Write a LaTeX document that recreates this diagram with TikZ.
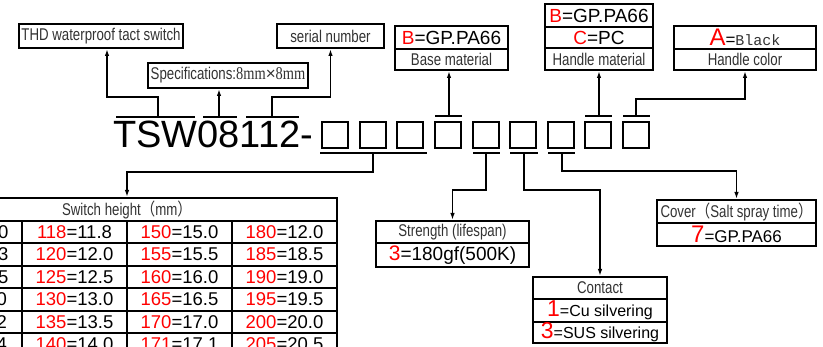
\documentclass[tikz,border=0pt]{standalone}
\usepackage{fontspec}
\setmainfont{Liberation Sans}
\newfontfamily\narrowfont[FakeStretch=0.78]{Liberation Sans}
\newfontfamily\narrowserif[FakeStretch=0.8]{Liberation Serif}
\newfontfamily\cjkfont[FakeStretch=0.85]{Noto Sans CJK SC}
\newfontfamily\monofnt{Liberation Mono}
\newfontfamily\plainsans{Liberation Sans}
\usetikzlibrary{arrows.meta}
\definecolor{redtxt}{RGB}{255,0,0}
\definecolor{labgray}{RGB}{50,50,50}
\newcommand\redd[1]{\textcolor{redtxt}{#1}}
\tikzset{
  box/.style={draw, line width=2pt, inner sep=0pt, align=center},
  lab/.style={font=\narrowfont\fontsize{17}{17}\selectfont, text=labgray},
  val/.style={font=\fontsize{19}{19}\selectfont},
  cellv/.style={font=\fontsize{18.5}{18.5}\selectfont},
  conn/.style={line width=1.8pt},
  arr/.style={conn, -{Latex[length=7pt,width=4.5pt]}},
  bar/.style={line width=2pt},
  sq/.style={draw, line width=2pt, minimum width=26pt, minimum height=26pt, inner sep=0pt},
}
\begin{document}
\begin{tikzpicture}[x=1pt,y=-1pt]
\useasboundingbox (0,0) rectangle (823,347);

% ---- top label boxes
\node[box, lab, minimum width=164pt, minimum height=24pt] (thd) at (101,36) {THD waterproof tact switch};
\node[box, lab, minimum width=160pt, minimum height=25pt] (spec) at (228,75.5)
  {Specifications:{\narrowserif\fontsize{18}{18}\selectfont 8mm}{\plainsans ×}{\narrowserif\fontsize{18}{18}\selectfont 8mm}};
\node[box, lab, minimum width=107pt, minimum height=24pt] (serial) at (330.5,36) {serial number};

\node[box, val, minimum width=113pt, minimum height=23pt] (bm1) at (451.5,37.5) {\redd{B}=GP.PA66};
\node[box, lab, minimum width=113pt, minimum height=21pt] (bm2) at (451.5,59.5) {Base material};

\node[box, val, minimum width=108pt, minimum height=23pt] (hm1) at (599,15.5) {\redd{B}=GP.PA66};
\node[box, val, minimum width=108pt, minimum height=21pt] (hm2) at (599,37.5) {\redd{C}=PC};
\node[box, lab, minimum width=108pt, minimum height=22pt] (hm3) at (599,59) {Handle material};

\node[box, minimum width=142pt, minimum height=23pt] (hc1) at (745,37.5)
  {\redd{\fontsize{24}{24}\selectfont A}{\fontsize{17}{17}\selectfont =}{\monofnt\fontsize{15}{15}\selectfont\color{labgray}Black}};
\node[box, lab, minimum width=142pt, minimum height=21pt] (hc2) at (745,59.5) {Handle color};

% ---- part number
\node[anchor=base west, inner sep=0pt, font=\fontsize{38}{38}\selectfont] (tsw) at (113,148) {TSW08112-};
\foreach \i/\x in {1/335,2/373,3/410,4/448,5/486,6/523,7/561,8/598,9/636}
  \node[sq] (s\i) at (\x,135) {};

% overlines / underlines
\draw[bar] (116,117) -- (195,117);
\draw[bar] (203,117) -- (237,117);
\draw[bar] (246,117) -- (299,117);
\draw[bar] (435,116) -- (462,116);
\draw[bar] (585,116) -- (612,116);
\draw[bar] (623,116) -- (650,116);
\draw[bar] (320,153) -- (427,153);
\draw[bar] (473,153) -- (500,153);
\draw[bar] (510,153) -- (538,153);
\draw[bar] (548,153) -- (575,153);

\coordinate (o1) at (158,117);
\coordinate (o2) at (219,117);
\coordinate (o3) at (272,117);
\coordinate (ov4) at (449,116);
\coordinate (ov8) at (599,116);
\coordinate (ov9) at (636,116);
\coordinate (ug) at (373,153);
\coordinate (u5) at (486,153);
\coordinate (u6) at (524,153);
\coordinate (u7) at (562,153);

% ---- lower boxes
\node[box, lab, minimum width=153pt, minimum height=22pt] (st1) at (452.5,232) {Strength (lifespan)};
\node[box, val, minimum width=153pt, minimum height=24pt] (st2) at (452.5,255)
  {\redd{\fontsize{21}{21}\selectfont 3}=180gf(500K)};

\node[box, lab, minimum width=134pt, minimum height=22pt] (ct1) at (600,288) {Contact};
\node[box, minimum width=134pt, minimum height=23pt] (ct2) at (600,310.5)
  {\redd{\fontsize{23}{23}\selectfont 1}{\fontsize{16}{16}\selectfont =Cu silvering}};
\node[box, minimum width=134pt, minimum height=21pt] (ct3) at (600,332.5)
  {\redd{\fontsize{23}{23}\selectfont 3}{\fontsize{16}{16}\selectfont =SUS silvering}};

\node[box, lab, minimum width=159pt, minimum height=23pt] (cv1) at (736.5,211.5)
  {Cover{\cjkfont （}Salt spray time{\cjkfont ）}};
\node[box, minimum width=159pt, minimum height=23pt] (cv2) at (736.5,234.5)
  {\redd{\fontsize{24}{24}\selectfont 7}{\fontsize{17}{17}\selectfont =GP.PA66}};

% ---- table (cut by the picture edges)
\begin{scope}
\clip (0,0) rectangle (823,347);
\node[box, lab, minimum width=420pt, minimum height=23pt] (hdr) at (127,209.5)
  {Switch height{\cjkfont （}mm{\cjkfont ）}};
\foreach \r/\ar/\ab/\br/\bb/\cr/\cb/\dr/\db in {
  0/100/10.0/118/11.8/150/15.0/180/12.0,
  1/103/10.3/120/12.0/155/15.5/185/18.5,
  2/105/10.5/125/12.5/160/16.0/190/19.0,
  3/110/11.0/130/13.0/165/16.5/195/19.5,
  4/112/11.2/135/13.5/170/17.0/200/20.0,
  5/114/11.4/140/14.0/171/17.1/205/20.5}{
  \node[box, cellv, minimum width=105pt, minimum height=22.4pt] (ca\r) at (-30.5,{232.2+22.4*\r}) {\redd{\ar}=\ab};
  \node[box, cellv, minimum width=105pt, minimum height=22.4pt] (cb\r) at (74.5,{232.2+22.4*\r}) {\redd{\br}=\bb};
  \node[box, cellv, minimum width=105pt, minimum height=22.4pt] (cc\r) at (179.5,{232.2+22.4*\r}) {\redd{\cr}=\cb};
  \node[box, cellv, minimum width=105pt, minimum height=22.4pt] (cd\r) at (284.5,{232.2+22.4*\r}) {\redd{\dr}=\db};
}
\end{scope}

% ---- connectors
\draw[arr] (o1) -- (158,97) -| ([xshift=6pt]thd.south);
\draw[arr] (o2) -- (o2 |- spec.south);
\draw[arr] (o3) -- (272,97) -| (serial.south);
\draw[arr] (ov4) -- (ov4 |- bm2.south);
\draw[arr] (ov8) -- (hm3.south);
\draw[arr] (ov9) -- (636,99) -| (hc2.south);
\draw[arr] (ug) -- (373,172) -| (hdr.north);
\draw[arr] (u5) -- (486,190) -| (st1.north);
\draw[arr] (u6) -- (524,190) -| (ct1.north);
\draw[arr] (u7) -- (562,171) -| (cv1.north);
\end{tikzpicture}
\end{document}
